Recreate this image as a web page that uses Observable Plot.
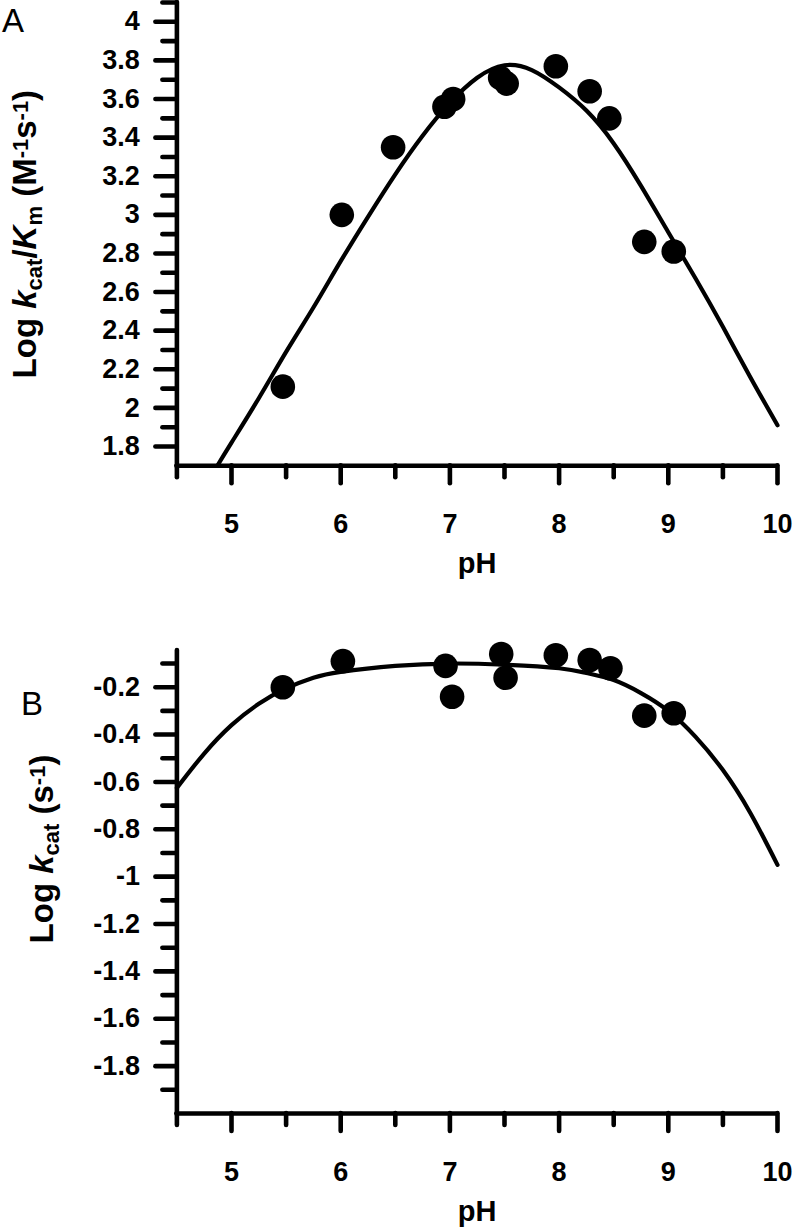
<!DOCTYPE html>
<html><head><meta charset="utf-8">
<script src="https://cdn.jsdelivr.net/npm/d3@7"></script>
<script src="https://cdn.jsdelivr.net/npm/@observablehq/plot@0.6"></script>
<style>
body{margin:0;background:#fff;}
#wrap{position:relative;width:794px;height:1231px;overflow:hidden;}
#a{position:absolute;left:0;top:0;}
#b{position:absolute;left:0;top:620px;}
</style></head><body><div id="wrap"><div id="a"></div><div id="b"></div></div>
<script>
// Panel A: log kcat/Km vs pH
const phA = [5.47, 6.01, 6.48, 6.95, 7.03, 7.46, 7.52, 7.97, 8.28, 8.46, 8.78, 9.05];
const logKcatKm = [2.11, 3.00, 3.35, 3.56, 3.60, 3.71, 3.68, 3.77, 3.64, 3.50, 2.86, 2.81];
const fitPhA = [4.87, 5.0, 5.25, 5.5, 5.75, 6.0, 6.25, 6.5, 6.75, 7.0, 7.25, 7.5, 7.75, 8.0, 8.25, 8.5, 8.75, 9.0, 9.25, 9.5, 9.75, 10.0];
const fitA = [1.70, 1.82, 2.05, 2.29, 2.52, 2.76, 2.99, 3.21, 3.41, 3.58, 3.71, 3.775, 3.75, 3.66, 3.54, 3.37, 3.15, 2.91, 2.67, 2.42, 2.16, 1.91];
const majorA = [1.8, 2.0, 2.2, 2.4, 2.6, 2.8, 3.0, 3.2, 3.4, 3.6, 3.8, 4.0];
const minorA = [1.9, 2.1, 2.3, 2.5, 2.7, 2.9, 3.1, 3.3, 3.5, 3.7, 3.9, 4.1];

// Panel B: log kcat vs pH
const phB = [5.47, 6.02, 6.96, 7.02, 7.47, 7.51, 7.97, 8.28, 8.47, 8.78, 9.05];
const logKcat = [-0.20, -0.09, -0.11, -0.24, -0.06, -0.16, -0.065, -0.085, -0.12, -0.32, -0.31];
const fitPhB = [4.5, 4.75, 5.0, 5.25, 5.5, 5.75, 6.0, 6.5, 7.0, 7.5, 8.0, 8.25, 8.5, 8.75, 9.0, 9.25, 9.5, 9.75, 10.0];
const fitB = [-0.625, -0.48, -0.36, -0.27, -0.205, -0.16, -0.135, -0.11, -0.10, -0.105, -0.12, -0.14, -0.17, -0.225, -0.30, -0.41, -0.55, -0.73, -0.95];
const majorB = [-1.8, -1.6, -1.4, -1.2, -1.0, -0.8, -0.6, -0.4, -0.2];
const minorB = [-1.9, -1.7, -1.5, -1.3, -1.1, -0.9, -0.7, -0.5, -0.3, -0.1];

const xMajor = [5, 6, 7, 8, 9, 10];
const xMinor = [4.5, 5.5, 6.5, 7.5, 8.5, 9.5];
const xDomain = [4.5, 10];

const fmt = d => String(+d.toFixed(1));
const SW = 4.6;
const NS = "http://www.w3.org/2000/svg";

function panel(o) {
  const pts = o.px.map((x, i) => ({x, y: o.py[i]}));
  const fit = o.fx.map((x, i) => ({x, y: o.fy[i]}));
  const svg = Plot.plot({
    width: 794, height: o.height,
    marginLeft: 176.4, marginRight: 17, marginTop: o.marginTop, marginBottom: o.marginBottom,
    style: {fontFamily: "'Liberation Sans', Arial, sans-serif", fontSize: "27px", fontWeight: "bold", color: "black", background: "white", overflow: "visible"},
    x: {domain: xDomain},
    y: {domain: o.yDomain},
    marks: [
      Plot.axisY({ticks: o.minor, tickSize: 14, tickFormat: () => "", strokeWidth: SW, strokeLinecap: "round", label: null}),
      Plot.axisY({ticks: o.major, tickSize: 21, tickPadding: 16, tickFormat: fmt, strokeWidth: SW, strokeLinecap: "round", label: null}),
      Plot.axisX({ticks: xMinor, tickSize: 12, tickFormat: () => "", strokeWidth: SW, strokeLinecap: "round", label: null}),
      Plot.axisX({ticks: xMajor, tickSize: 18, tickPadding: 30, tickFormat: d => String(d), strokeWidth: SW, strokeLinecap: "round", label: null}),
      Plot.ruleX([{x: 4.5, y1: o.yDomain[0], y2: o.yDomain[1]}], {x: "x", y1: "y1", y2: "y2", strokeWidth: SW, strokeLinecap: "round"}),
      Plot.ruleY([{y: o.yDomain[0], x1: 4.5, x2: 10}], {y: "y", x1: "x1", x2: "x2", strokeWidth: SW, strokeLinecap: "round"}),
      Plot.line(fit, {x: "x", y: "y", curve: "natural", stroke: "black", strokeWidth: 4.2}),
      Plot.dot(pts, {x: "x", y: "y", r: 12.3, fill: "black", stroke: "none"}),
      Plot.text(["pH"], {frameAnchor: "bottom", dy: 98, lineAnchor: "middle", fontSize: 29, fontWeight: "bold"}),
      Plot.text([o.title], {frameAnchor: "left", dx: o.titleDx, dy: o.titleDy, rotate: -90, textAnchor: "middle", lineAnchor: "middle", fontSize: 33, fontWeight: "bold"}),
      Plot.text([o.letter], {frameAnchor: "top-left", dx: o.letterDx, dy: o.letterDy, textAnchor: "start", lineAnchor: "middle", fontSize: 33, fontWeight: "normal", fontFamily: "'Liberation Sans', Arial, sans-serif"})
    ]
  });
  // rich text for the y-axis title (italics, subscripts, superscripts)
  for (const t of svg.querySelectorAll("text")) {
    if (t.textContent === o.title) {
      t.textContent = "";
      for (const p of o.parts) {
        const ts = document.createElementNS(NS, "tspan");
        ts.textContent = p.t;
        if (p.i) ts.setAttribute("font-style", "italic");
        if (p.sub) { ts.setAttribute("baseline-shift", "-25%"); ts.setAttribute("font-size", "22"); }
        if (p.sup) { ts.setAttribute("baseline-shift", "38%"); ts.setAttribute("font-size", "22"); }
        t.appendChild(ts);
      }
    }
  }
  return svg;
}

document.getElementById("a").appendChild(panel({
  px: phA, py: logKcatKm, fx: fitPhA, fy: fitA,
  height: 600, marginTop: 2, marginBottom: 134.7, yDomain: [1.7, 4.1],
  major: majorA, minor: minorA,
  title: "Log kcat/Km (M-1s-1)",
  parts: [{t: "Log "}, {t: "k", i: true}, {t: "cat", sub: true}, {t: "/"}, {t: "K", i: true}, {t: "m", sub: true}, {t: " (M"}, {t: "-1", sup: true}, {t: "s"}, {t: "-1", sup: true}, {t: ")"}],
  titleDx: -151, titleDy: 0,
  letter: "A", letterDx: -175, letterDy: 19
}));

document.getElementById("b").appendChild(panel({
  px: phB, py: logKcat, fx: fitPhB, fy: fitB,
  height: 611, marginTop: 30, marginBottom: 118, yDomain: [-2.0, -0.045],
  major: majorB, minor: minorB,
  title: "Log kcat (s-1)",
  parts: [{t: "Log "}, {t: "k", i: true}, {t: "cat", sub: true}, {t: " (s"}, {t: "-1", sup: true}, {t: ")"}],
  titleDx: -134, titleDy: -33,
  letter: "B", letterDx: -156, letterDy: 54
}));
</script>
</body></html>
